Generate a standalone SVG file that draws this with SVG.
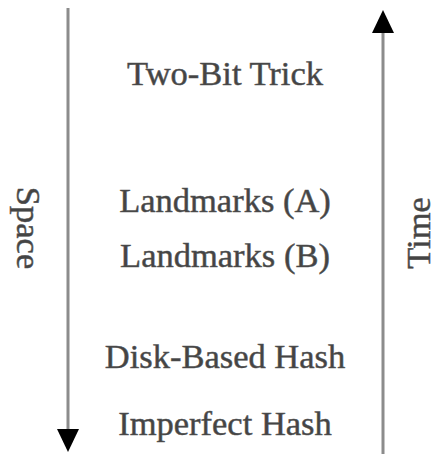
<svg xmlns="http://www.w3.org/2000/svg" width="437" height="454" viewBox="0 0 437 454">
  <style>
    .lbl { font-family: 'Liberation Serif', 'Times New Roman', serif; font-size: 34.5px; fill: #444444; stroke: #555555; stroke-width: 0.5; text-anchor: middle; }
    .axis { stroke: #8c8c8c; stroke-width: 3; fill: none; }
    .head { fill: #000000; }
  </style>
  <rect width="437" height="454" fill="#ffffff"/>
  <g id="connectors">
    <line class="axis" x1="68" y1="8" x2="68" y2="432"/>
    <polygon class="head" points="57,429 79,429 68,452"/>
    <line class="axis" x1="383" y1="30" x2="383" y2="454"/>
    <polygon class="head" points="372,33 394,33 383,10"/>
  </g>
  <g id="space"><text class="lbl" transform="translate(17,228) rotate(90)">Space</text></g>
  <g id="time"><text class="lbl" transform="translate(430,233) rotate(-90)">Time</text></g>
  <g id="two-bit"><text class="lbl" x="225" y="85">Two-Bit Trick</text></g>
  <g id="landmarks-a"><text class="lbl" x="225" y="212">Landmarks (A)</text></g>
  <g id="landmarks-b"><text class="lbl" x="225" y="267">Landmarks (B)</text></g>
  <g id="disk-hash"><text class="lbl" x="225" y="368">Disk-Based Hash</text></g>
  <g id="imperfect-hash"><text class="lbl" x="225" y="435">Imperfect Hash</text></g>
</svg>
